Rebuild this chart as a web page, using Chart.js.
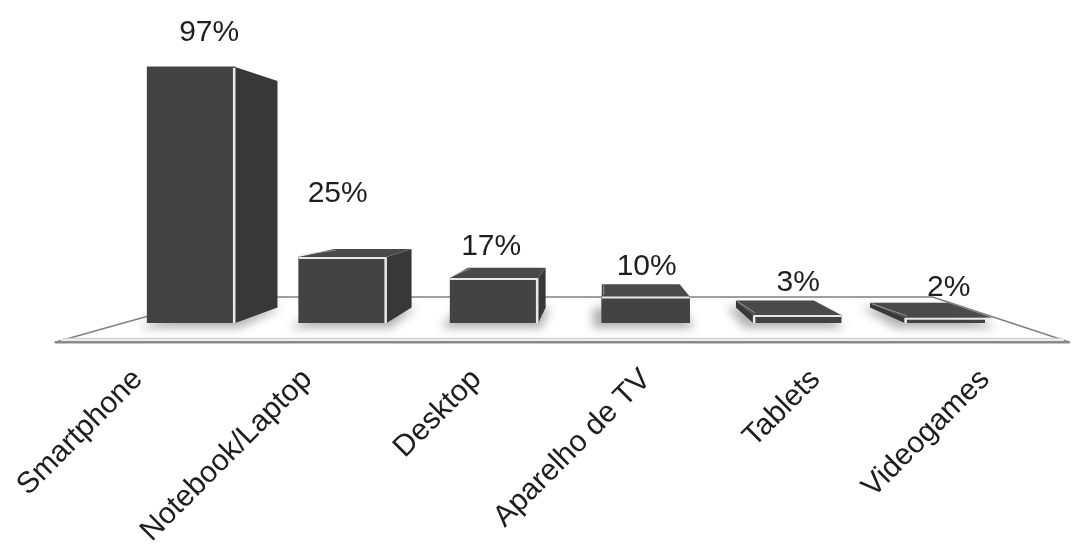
<!DOCTYPE html>
<html>
<head>
<meta charset="utf-8">
<script src="https://cdn.jsdelivr.net/npm/chart.js@4/dist/chart.umd.min.js"></script>
<style>
  html, body { margin: 0; padding: 0; background: #ffffff; }
  #wrap { width: 1076px; height: 551px; }
</style>
</head>
<body>
<div id="wrap"><canvas id="chart" width="1076" height="551"></canvas></div>
<script>
// Devices used to access the internet (% of respondents)
const categories = ['Smartphone', 'Notebook/Laptop', 'Desktop', 'Aparelho de TV', 'Tablets', 'Videogames'];
const shares = [97, 25, 17, 10, 3, 2];
const valueLabels = shares.map(v => v + '%');

const FONT = "'Liberation Sans', Arial, Helvetica, sans-serif";

// Bars sit on their own linear axis so their spacing can differ from the
// label axis (labels lie on the front edge of the floor, bars further back).
const BAR_AXIS_MIN = -0.351;
const BAR_AXIS_MAX = 5.240;

// Nudges for the value labels, in pixels from the top of each bar
const labelOffsets = [[18, -34], [-5, -63], [-3, -31], [1, -30], [1, -32], [0, -30]];

// Perspective box renderer: floor plane, side/top faces, highlights and value labels
const perspectiveBoxes = {
  id: 'perspectiveBoxes',
  beforeDatasetsDraw(chart, args, o) {
    const { ctx } = chart;
    const xs = chart.scales.xb, ys = chart.scales.y;
    const vx = xs.getPixelForValue(o.vpX), vy = ys.getPixelForValue(o.vpY);
    const k = o.depth;
    const back = (x, y) => [x + k * (vx - x), y + k * (vy - y)];

    // floor
    const yTop = ys.getPixelForValue(o.floorFront);
    const yBot = ys.getPixelForValue(o.floorEdge);
    const yBack = ys.getPixelForValue(o.floorBack);
    const xl = xs.getPixelForValue(o.floorLeft), xr = xs.getPixelForValue(o.floorRight);
    const t = (yBot - yBack) / (yBot - vy);
    const bl = xl + t * (vx - xl), br = xr + t * (vx - xr);
    ctx.save();
    ctx.beginPath();
    ctx.moveTo(xl, yBot); ctx.lineTo(bl, yBack); ctx.lineTo(br, yBack); ctx.lineTo(xr, yBot);
    ctx.closePath();
    ctx.fillStyle = '#ffffff';
    ctx.fill();
    ctx.strokeStyle = '#808080';
    ctx.lineWidth = 1.5;
    ctx.beginPath();
    ctx.moveTo(xl, yBot); ctx.lineTo(bl, yBack); ctx.lineTo(br, yBack); ctx.lineTo(xr, yBot);
    ctx.stroke();
    // front lip of the floor
    ctx.fillStyle = '#ececec';
    ctx.fillRect(xl + 6, yTop, xr - xl - 12, yBot - yTop);
    ctx.strokeStyle = '#c8c8c8';
    ctx.lineWidth = 1;
    ctx.beginPath(); ctx.moveTo(xl + 8, yTop); ctx.lineTo(xr - 8, yTop); ctx.stroke();
    ctx.strokeStyle = '#8a8a8a';
    ctx.lineWidth = 2.5;
    ctx.beginPath(); ctx.moveTo(xl, yBot); ctx.lineTo(xr, yBot); ctx.stroke();

    const meta = chart.getDatasetMeta(0);
    // soft shadows on the floor
    meta.data.forEach(bar => {
      const { x, base, width } = bar.getProps(['x', 'base', 'width'], true);
      const l = x - width / 2, r = x + width / 2;
      const p1 = back(l, base), p2 = back(r, base);
      ctx.save();
      ctx.filter = 'blur(5px)';
      ctx.fillStyle = 'rgba(0,0,0,0.30)';
      ctx.beginPath();
      ctx.moveTo(l - 9, base + 5);
      ctx.lineTo(r + 4, base + 5);
      ctx.lineTo(p2[0] + 4, p2[1]);
      ctx.lineTo(p1[0] - 9, p1[1]);
      ctx.closePath();
      ctx.fill();
      ctx.restore();
    });

    // side and top faces
    meta.data.forEach(bar => {
      const { x, y, base, width } = bar.getProps(['x', 'y', 'base', 'width'], true);
      const l = x - width / 2, r = x + width / 2;
      const edge = r < vx ? r : (l > vx ? l : null);
      if (edge !== null) {
        const a = back(edge, y), b = back(edge, base);
        ctx.beginPath();
        ctx.moveTo(edge, y); ctx.lineTo(a[0], a[1]); ctx.lineTo(b[0], b[1]); ctx.lineTo(edge, base);
        ctx.closePath();
        ctx.fillStyle = o.sideColor;
        ctx.fill();
      }
      if (y > vy) {
        const a = back(l, y), b = back(r, y);
        ctx.beginPath();
        ctx.moveTo(l, y); ctx.lineTo(r, y); ctx.lineTo(b[0], b[1]); ctx.lineTo(a[0], a[1]);
        ctx.closePath();
        ctx.fillStyle = o.topColor;
        ctx.fill();
        ctx.strokeStyle = 'rgba(200,200,200,0.6)';
        ctx.lineWidth = 1;
        ctx.beginPath();
        ctx.moveTo(l + 2, y - 2); ctx.lineTo(a[0] + 2, a[1] + 1);
        ctx.stroke();
      }
    });
    ctx.restore();
  },
  afterDatasetsDraw(chart, args, o) {
    const { ctx } = chart;
    const xs = chart.scales.xb, ys = chart.scales.y;
    const vx = xs.getPixelForValue(o.vpX), vy = ys.getPixelForValue(o.vpY);
    const meta = chart.getDatasetMeta(0);
    ctx.save();
    meta.data.forEach((bar, i) => {
      const { x, y, base, width } = bar.getProps(['x', 'y', 'base', 'width'], true);
      const l = x - width / 2, r = x + width / 2;
      // light edges where the faces meet
      ctx.strokeStyle = o.edgeColor;
      ctx.lineWidth = 2.5;
      ctx.beginPath();
      if (r < vx) { ctx.moveTo(r - 1, y + 1); ctx.lineTo(r - 1, base); }
      else if (l > vx) { ctx.moveTo(l + 1, y + 1); ctx.lineTo(l + 1, base); }
      ctx.stroke();
      if (y > vy) {
        ctx.lineWidth = 2;
        ctx.beginPath();
        ctx.moveTo(l, y + 1); ctx.lineTo(r, y + 1);
        ctx.stroke();
      }
      // value label
      const off = o.labelOffsets[i] || [0, -30];
      ctx.fillStyle = '#1e1e1e';
      ctx.font = '30px ' + FONT;
      ctx.textAlign = 'center';
      ctx.textBaseline = 'middle';
      ctx.fillText(valueLabels[i], x + off[0], y + off[1]);
    });
    ctx.restore();
  }
};

new Chart(document.getElementById('chart'), {
  type: 'bar',
  data: {
    labels: categories,
    datasets: [{
      data: shares.map((v, i) => ({ x: i, y: v })),
      xAxisID: 'xb',
      yAxisID: 'y',
      backgroundColor: '#434343',
      borderWidth: 0,
      barThickness: 88
    }]
  },
  options: {
    responsive: false,
    animation: false,
    events: [],
    layout: { padding: { left: 138, right: 91, top: 59, bottom: 0 } },
    plugins: {
      legend: { display: false },
      tooltip: { enabled: false },
      perspectiveBoxes: {
        vpX: 2.72, vpY: 51, depth: 0.115,
        floorFront: -5.8, floorEdge: -7.3, floorBack: 9.85,
        floorLeft: -0.9, floorRight: 5.8,
        sideColor: '#383838', topColor: '#4a4a4a', edgeColor: '#e8e8e8',
        labelOffsets: labelOffsets
      }
    },
    scales: {
      x: {
        type: 'category',
        position: 'bottom',
        offset: false,
        grid: { display: false, drawTicks: false },
        border: { display: false },
        ticks: {
          autoSkip: false,
          minRotation: 45,
          maxRotation: 45,
          padding: 39,
          color: '#1e1e1e',
          font: { family: FONT, size: 30 }
        },
        afterFit(scale) {
          scale.height = 228;
          scale.paddingLeft = 0;
          scale.paddingRight = 0;
        }
      },
      xb: {
        type: 'linear', display: false, offset: false, grid: { offset: false },
        min: BAR_AXIS_MIN, max: BAR_AXIS_MAX
      },
      y: { type: 'linear', display: false, min: 0, max: 100 }
    }
  },
  plugins: [perspectiveBoxes]
});
</script>
</body>
</html>
